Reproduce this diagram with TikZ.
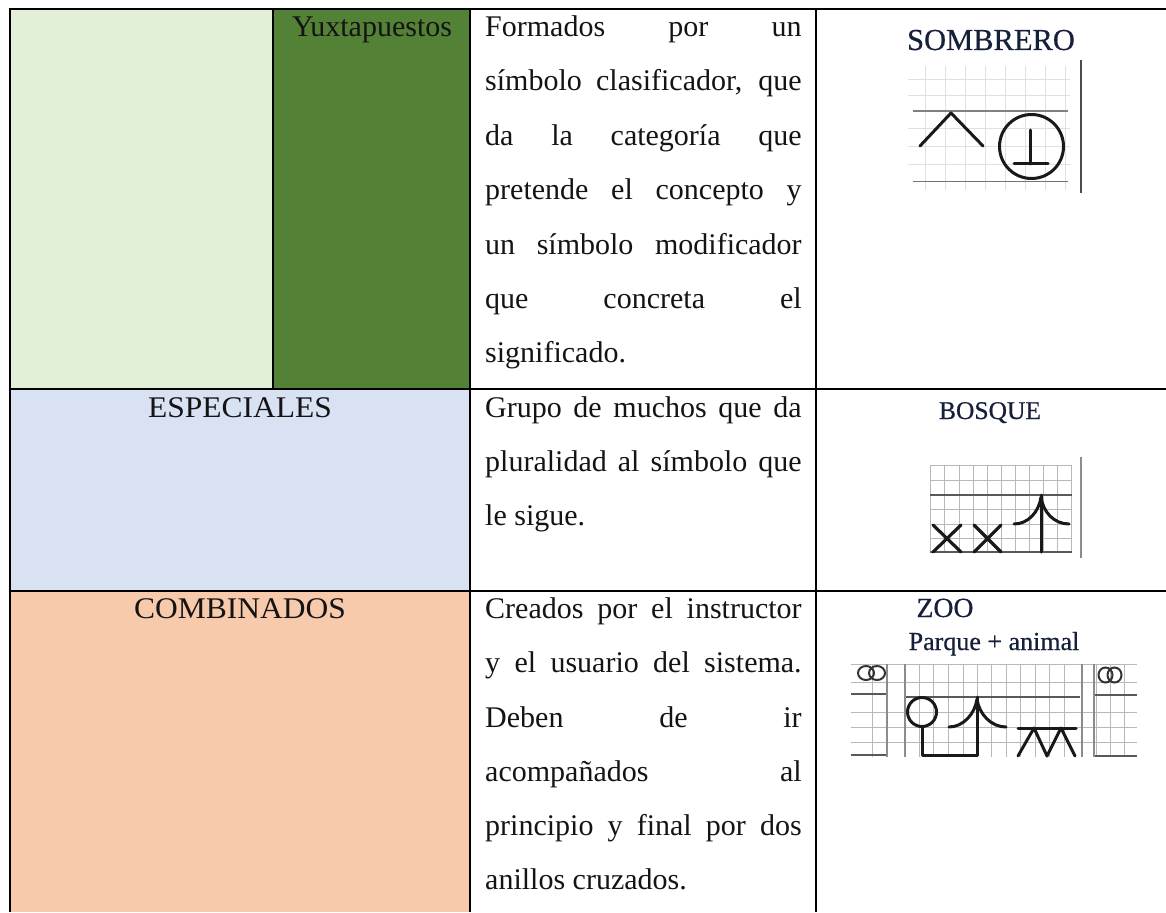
\documentclass[tikz,border=0pt]{standalone}
\usepackage{fontspec}
\setmainfont{Liberation Serif}
\newfontfamily\figfont[FakeBold=0.5]{Liberation Serif}
\definecolor{lgreen}{HTML}{E2EFD9}
\definecolor{dgreen}{HTML}{538135}
\definecolor{lblue}{HTML}{D9E2F3}
\definecolor{lorange}{HTML}{F7CAAC}
\definecolor{figink}{HTML}{16203A}
\newcommand{\bodysize}{\fontsize{30}{36}\selectfont}
\newcommand{\jl}[3]{\node[inner sep=0pt,anchor=base west] (#1) at (485,#2) {\hbox to 316.5pt{\spaceskip=.25em plus 1fil\relax #3}};}
\newcommand{\pl}[3]{\node[inner sep=0pt,anchor=base west] (#1) at (485,#2) {#3};}
\newcommand{\figlabel}[5]{\node[inner sep=0pt,anchor=base,text=figink] (#1) at (#2,#3) {\figfont\fontsize{#4}{#4}\selectfont #5};}
\tikzset{
  rulec/.style={line width=1.9pt,black},
  gridl/.style={line width=.7pt,black!28},
  majorl/.style={line width=1.2pt,black!65},
  sym/.style={line width=3pt,black!90,line cap=round,line join=round},
  barl/.style={line width=1.5pt,black!70}
}
\begin{document}
\begin{tikzpicture}[x=1pt,y=-1pt,font=\bodysize,text=black!92]
\useasboundingbox (0,0) rectangle (1166,912);
\fill[white] (0,0) rectangle (1166,912);
% cell fills
\fill[lgreen] (10,9) rectangle (273,389);
\fill[dgreen] (273,9) rectangle (470,389);
\fill[lblue] (10,389) rectangle (470,591);
\fill[lorange] (10,591) rectangle (470,912);
% rules
\draw[rulec] (9,9) -- (1166,9);
\draw[rulec] (9,389) -- (1166,389);
\draw[rulec] (9,591) -- (1166,591);
\draw[rulec] (10,8) -- (10,912);
\draw[rulec] (273,9) -- (273,389);
\draw[rulec] (470,8) -- (470,912);
\draw[rulec] (816,8) -- (816,912);
% left labels
\node[inner sep=0pt,anchor=base] (yux) at (372,36.5) {Yuxtapuestos};
\node[inner sep=0pt,anchor=base] (esp) at (240,417) {\scalebox{1.05}[1]{ESPECIALES}};
\node[inner sep=0pt,anchor=base] (com) at (240,618.5) {\scalebox{1.05}[1]{COMBINADOS}};
% row 1 text
\jl{a1}{36.5}{Formados por un}
\jl{a2}{91}{símbolo clasificador, que}
\jl{a3}{145.5}{da la categoría que}
\jl{a4}{200}{pretende el concepto y}
\jl{a5}{254}{un símbolo modificador}
\jl{a6}{308.5}{que concreta el}
\pl{a7}{362.5}{significado.}
% row 2 text
\jl{b1}{417}{Grupo de muchos que da}
\jl{b2}{471.3}{pluralidad al símbolo que}
\pl{b3}{525.6}{le sigue.}
% row 3 text
\jl{c1}{618.5}{Creados por el instructor}
\jl{c2}{672.5}{y el usuario del sistema.}
\jl{c3}{727}{Deben de ir}
\jl{c4}{781}{acompañados al}
\jl{c5}{835.5}{principio y final por dos}
\pl{c6}{889.5}{anillos cruzados.}
% SOMBRERO
\figlabel{fs}{991}{50}{30.5}{SOMBRERO}
\foreach \x in {925,945,965,985,1005,1025,1045,1065} \draw[gridl,black!12] (\x,66) -- (\x,190);
\foreach \y in {79,95,128,146,164} \draw[gridl,black!12] (908,\y) -- (1070,\y);
\draw[majorl,black!50] (913,111) -- (1068,111);
\draw[majorl,black!55] (913,181.5) -- (1068,181.5);
\draw[sym] (920,146) -- (951,113) -- (983,146);
\draw[sym] (1031.5,146.5) circle (32);
\draw[sym] (1030.5,130) -- (1030.5,164);
\draw[sym] (1014,164) -- (1048,164);
\draw[barl] (1081,60) -- (1081,193);
% BOSQUE
\figlabel{fb}{990}{419}{25.5}{BOSQUE}
\foreach \x in {930,944.5,959,973,987,1001,1015,1029,1043,1057,1071} \draw[gridl] (\x,465) -- (\x,552);
\foreach \y in {465,480,509,524,538} \draw[gridl] (930,\y) -- (1072,\y);
\draw[majorl] (930,495) -- (1072,495);
\draw[majorl] (930,552) -- (1072,552);
\draw[sym,line width=3.2pt] (933,525) -- (961,552) (961,525) -- (933,552);
\draw[sym,line width=3.2pt] (974,525) -- (1001,552) (1001,525) -- (974,552);
\draw[sym] (1041,495) -- (1041,552);
\draw[sym] (1014,524) .. controls (1028,524) and (1039,512) .. (1041,497) .. controls (1043,512) and (1054,524) .. (1069,524);
\draw[barl,black!45] (1081,457) -- (1081,558);
% ZOO
\figlabel{fz}{945}{617}{27.7}{ZOO}
\figlabel{fp}{994}{650}{26}{Parque + animal}
\foreach \x in {872,887,905,919,933,948,963,977,991,1006,1020,1035,1049,1064,1082,1096,1110,1124} \draw[gridl] (\x,664) -- (\x,757);
\foreach \y in {664,682,712,727,742} \draw[gridl] (851,\y) -- (1137,\y);
\draw[majorl] (851,694) -- (887,694);
\draw[majorl] (905,697) -- (1080,697);
\draw[majorl] (1094,695) -- (1137,695);
\draw[majorl] (851,755) -- (887,755);
\draw[majorl] (1094,756) -- (1137,756);
\draw[line width=1.2pt,black!45] (887,664) -- (887,757) (905,664) -- (905,757);
\draw[line width=1.2pt,black!45] (1082,664) -- (1082,757) (1094,664) -- (1094,757);
% crossed rings
\draw[line width=2pt,black!80] (866,673) ellipse (8 and 7) (877,673) ellipse (8 and 7);
\draw[line width=2pt,black!80] (1105.5,675) ellipse (7 and 7.5) (1114.5,675) ellipse (7 and 7.5);
% park + animal
\draw[sym] (922,712) circle (14.5);
\draw[sym] (922,727) -- (922,755) -- (977,755) -- (977,697);
\draw[sym] (949,727) .. controls (963,727) and (975,714) .. (977,699) .. controls (979,714) and (991,727) .. (1006,727);
\draw[sym] (1018,728) -- (1076,728);
\draw[sym] (1018,756) -- (1034,728) -- (1047,756) -- (1061,728) -- (1075,756);
\end{tikzpicture}
\end{document}
